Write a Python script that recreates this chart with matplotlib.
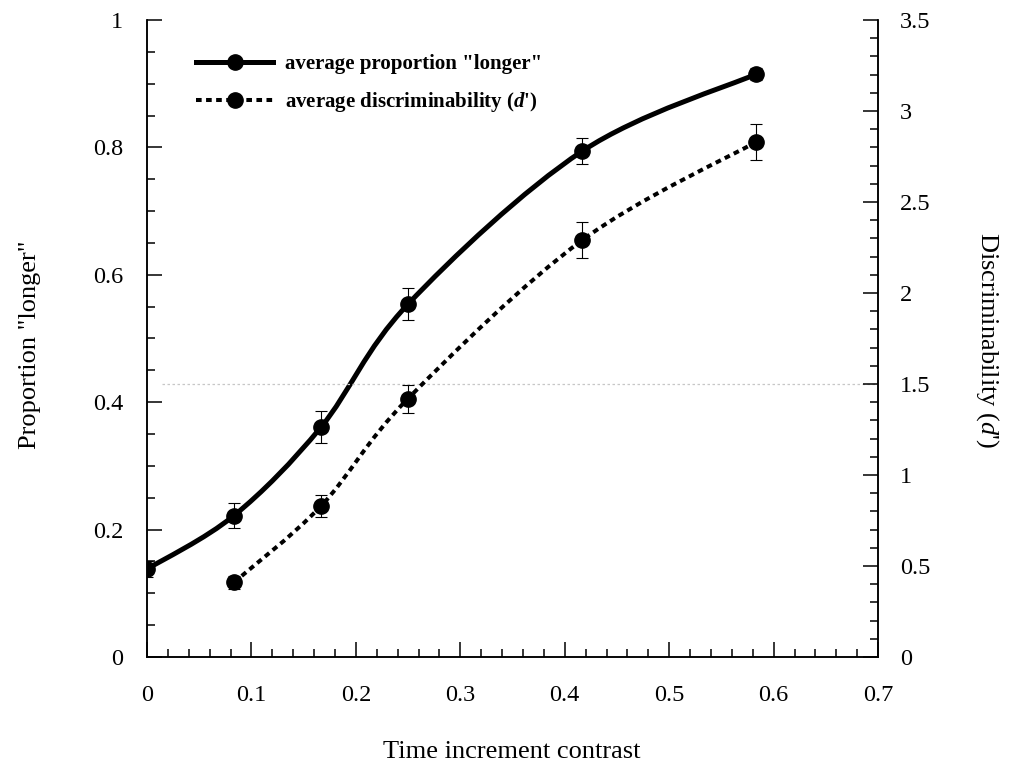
import numpy as np
import matplotlib
matplotlib.use("Agg")
import matplotlib.pyplot as plt
from matplotlib.path import Path
from matplotlib.patches import PathPatch
from matplotlib.lines import Line2D
from matplotlib.ticker import MultipleLocator

# data
contrast = [0.0, 0.0833, 0.1667, 0.25, 0.4167, 0.5833]
prop_longer = [0.138, 0.222, 0.361, 0.554, 0.794, 0.915]
prop_err = [0.012, 0.02, 0.025, 0.025, 0.02, 0.01]

contrast_d = [0.0833, 0.1667, 0.25, 0.4167, 0.5833]
dprime = [0.41, 0.83, 1.42, 2.29, 2.83]
dprime_err = [0.035, 0.06, 0.077, 0.1, 0.097]

label_prop = 'average proportion "longer"'
label_d = "average discriminability ($\\mathbfit{d}$')"

plt.rcParams['font.family'] = ['Liberation Serif', 'DejaVu Serif']
plt.rcParams['mathtext.fontset'] = 'custom'
plt.rcParams['mathtext.rm'] = 'Liberation Serif'
plt.rcParams['mathtext.it'] = 'Liberation Serif:italic'
plt.rcParams['mathtext.bf'] = 'Liberation Serif:bold'
plt.rcParams['mathtext.bfit'] = 'Liberation Serif:italic:bold'


def smooth_path(xs, ys):
    # Catmull-Rom curve through the points, as cubic bezier segments
    pts = np.column_stack([xs, ys])
    n = len(pts)
    verts = [pts[0]]
    codes = [Path.MOVETO]
    for i in range(n - 1):
        p0 = pts[max(i - 1, 0)]
        p1 = pts[i]
        p2 = pts[i + 1]
        p3 = pts[min(i + 2, n - 1)]
        c1 = p1 + (p2 - p0) / 6.0
        c2 = p2 - (p3 - p1) / 6.0
        verts += [c1, c2, p2]
        codes += [Path.CURVE4] * 3
    return Path(verts, codes)


fig = plt.figure(figsize=(10.11, 7.71), dpi=100)
ax = fig.add_axes([0.1454, 0.1479, 0.7231, 0.8262])
ax2 = ax.twinx()

# faint scan line
ax2.axhline(1.5, xmin=0.02, color='0.78', lw=0.9, ls=(0, (2, 2)), zorder=0)

ax.add_patch(PathPatch(smooth_path(contrast, prop_longer), fill=False,
                       edgecolor='black', lw=3.6, capstyle='round', zorder=3))
ax.errorbar(contrast, prop_longer, yerr=prop_err, fmt='o', color='black',
            ms=11, elinewidth=0.8, capsize=4, capthick=0.8, zorder=4)

ax2.add_patch(PathPatch(smooth_path(contrast_d, dprime), fill=False,
                        edgecolor='black', lw=2.9, ls=(0, (1.4, 1.1)),
                        capstyle='butt', zorder=3))
ax2.errorbar(contrast_d, dprime, yerr=dprime_err, fmt='o', color='black',
             ms=11, elinewidth=0.8, capsize=4, capthick=0.8, zorder=4)

ax.set_xlim(0, 0.7)
ax.set_ylim(0, 1)
ax2.set_ylim(0, 3.5)

ax.set_xticks(np.arange(0, 0.71, 0.1))
ax.set_xticklabels(['0', '0.1', '0.2', '0.3', '0.4', '0.5', '0.6', '0.7'])
ax.set_yticks(np.arange(0, 1.01, 0.2))
ax.set_yticklabels(['0', '0.2', '0.4', '0.6', '0.8', '1'])
ax2.set_yticks(np.arange(0, 3.51, 0.5))
ax2.set_yticklabels(['0', '0.5', '1', '1.5', '2', '2.5', '3', '3.5'])
ax.xaxis.set_minor_locator(MultipleLocator(0.02))
ax.yaxis.set_minor_locator(MultipleLocator(0.05))
ax2.yaxis.set_minor_locator(MultipleLocator(0.1))

for a in (ax, ax2):
    a.spines['top'].set_visible(False)
    for s in a.spines.values():
        s.set_linewidth(1.1)
ax.tick_params(which='both', direction='in', width=1.1, labelsize=17.5, top=False)
ax.tick_params(which='major', length=11)
ax.tick_params(which='minor', length=6)
ax.tick_params(axis='y', pad=17)
ax.tick_params(axis='x', pad=20)
ax2.tick_params(which='both', direction='in', width=1.1, labelsize=17.5, pad=16)
ax2.tick_params(which='major', length=11)
ax2.tick_params(which='minor', length=6)

fig.text(0.5066, 0.0246, 'Time increment contrast', fontsize=19,
         ha='center', va='center')
fig.text(0.030, 0.553, 'Proportion "longer"', fontsize=19, rotation=90,
         ha='center', va='center')
fig.text(0.977, 0.559, "Discriminability ($\\mathit{d}$')", fontsize=19,
         rotation=270, ha='center', va='center')

handles = [
    Line2D([], [], color='black', lw=3.6, marker='o', ms=11),
    Line2D([], [], color='black', lw=2.9, ls=(0, (1.4, 1.1)), marker='o', ms=11),
]
leg = ax.legend(handles, [label_prop, label_d], loc='upper left',
                bbox_to_anchor=(0.067, 0.946), frameon=False, borderpad=0,
                borderaxespad=0, handlelength=3.7, handletextpad=0.55,
                labelspacing=0.75, numpoints=1, prop={'weight': 'bold', 'size': 15})

fig.savefig('out.png', dpi=100)
